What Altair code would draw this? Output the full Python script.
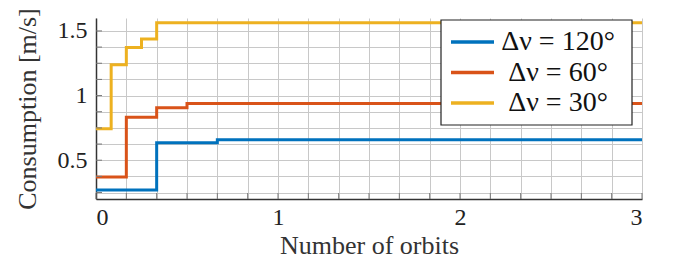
import altair as alt
import pandas as pd

series_names = ["Δν = 120°", "Δν = 60°", "Δν = 30°"]
colors = ["#0072BD", "#D95319", "#EDB120"]

t_120 = [0, 1/3, 2/3, 3]
v_120 = [0.27, 0.636, 0.658, 0.658]
t_60 = [0, 1/6, 1/3, 1/2, 3]
v_60 = [0.37, 0.833, 0.905, 0.938, 0.938]
t_30 = [0, 1/12, 1/6, 1/4, 1/3, 3]
v_30 = [0.744, 1.238, 1.372, 1.438, 1.564, 1.568]

x_grid = [i / 6 for i in range(0, 19)]
y_grid = [0.25 + 0.125 * i for i in range(0, 11)]

rows = []
for name, ts, vs in zip(series_names, [t_120, t_60, t_30], [v_120, v_60, v_30]):
    for t, v in zip(ts, vs):
        rows.append({"orbits": t, "cons": v, "series": name})
df = pd.DataFrame(rows)
legend_df = pd.DataFrame({"series": series_names, "idx": list(range(len(series_names)))})

FONT = "Liberation Serif"
W, H = 546, 181
TICK = 6

xscale = alt.Scale(domain=[0, 3], nice=False)
yscale = alt.Scale(domain=[0.2, 1.6], nice=False, zero=False)
cscale = alt.Scale(domain=series_names, range=colors)

xaxis = alt.Axis(values=x_grid, title="Number of orbits",
                 labelExpr="abs(datum.value - round(datum.value)) < 0.001 ? format(round(datum.value), 'd') : ''",
                 grid=True, gridColor="#c8c8c8", gridWidth=1,
                 ticks=False, domainColor="#333333", domainWidth=1.5,
                 labelFont=FONT, labelFontSize=24, labelColor="#222222", labelPadding=6,
                 titleFont=FONT, titleFontSize=26, titleFontWeight="normal", titleColor="#333333",
                 titlePadding=3)
yaxis = alt.Axis(values=y_grid, title="Consumption [m/s]",
                 labelExpr="abs(datum.value*2 - round(datum.value*2)) < 0.001 ? format(datum.value, '') : ''",
                 grid=True, gridColor="#c8c8c8", gridWidth=1,
                 ticks=False, domainColor="#333333", domainWidth=1.5,
                 labelFont=FONT, labelFontSize=24, labelColor="#222222", labelPadding=9,
                 titleFont=FONT, titleFontSize=26, titleFontWeight="normal", titleColor="#333333",
                 titlePadding=17)

lines = alt.Chart(df).mark_line(interpolate="step-after", strokeWidth=3, clip=True).encode(
    x=alt.X("orbits:Q", scale=xscale, axis=xaxis),
    y=alt.Y("cons:Q", scale=yscale, axis=yaxis),
    color=alt.Color("series:N", sort=series_names, scale=cscale, legend=None),
)

xticks = alt.Chart(pd.DataFrame({"orbits": x_grid})).mark_rule(color="#777777", strokeWidth=1).encode(
    x=alt.X("orbits:Q", scale=xscale, axis=xaxis), y=alt.value(H), y2=alt.value(H - TICK))
yticks = alt.Chart(pd.DataFrame({"cons": y_grid})).mark_rule(color="#777777", strokeWidth=1).encode(
    y=alt.Y("cons:Q", scale=yscale, axis=yaxis), x=alt.value(0), x2=alt.value(TICK))

# legend box (top right, inside the plot)
LX0, LX1, LY0, LY1 = 345, 536, 2, 107
leg_box = alt.Chart(pd.DataFrame({"k": [0]})).mark_rect(
    fill="white", stroke="#222222", strokeWidth=1.2).encode(
    x=alt.value(LX0), x2=alt.value(LX1), y=alt.value(LY0), y2=alt.value(LY1))

leg_base = alt.Chart(legend_df).transform_calculate(py="24 + datum.idx * 30.5")
leg_lines = leg_base.mark_rule(strokeWidth=3.5).encode(
    x=alt.value(LX0 + 10), x2=alt.value(LX0 + 53),
    y=alt.Y("py:Q", scale=None, axis=None),
    color=alt.Color("series:N", scale=cscale, legend=None))
leg_text = leg_base.mark_text(font="Liberation Serif, DejaVu Serif, serif", fontSize=28,
                              align="center", baseline="middle", color="#111111").encode(
    x=alt.value(LX0 + 117),
    y=alt.Y("py:Q", scale=None, axis=None),
    text="series:N")

chart = alt.layer(lines, xticks, yticks, leg_box, leg_lines, leg_text).properties(
    width=W, height=H,
    autosize=alt.AutoSizeParams(type="none"),
    padding={"left": 88, "top": 10, "right": 20, "bottom": 60},
).configure_view(stroke=None)

chart.save("out.html", embed_options={"renderer": "svg", "actions": False})
